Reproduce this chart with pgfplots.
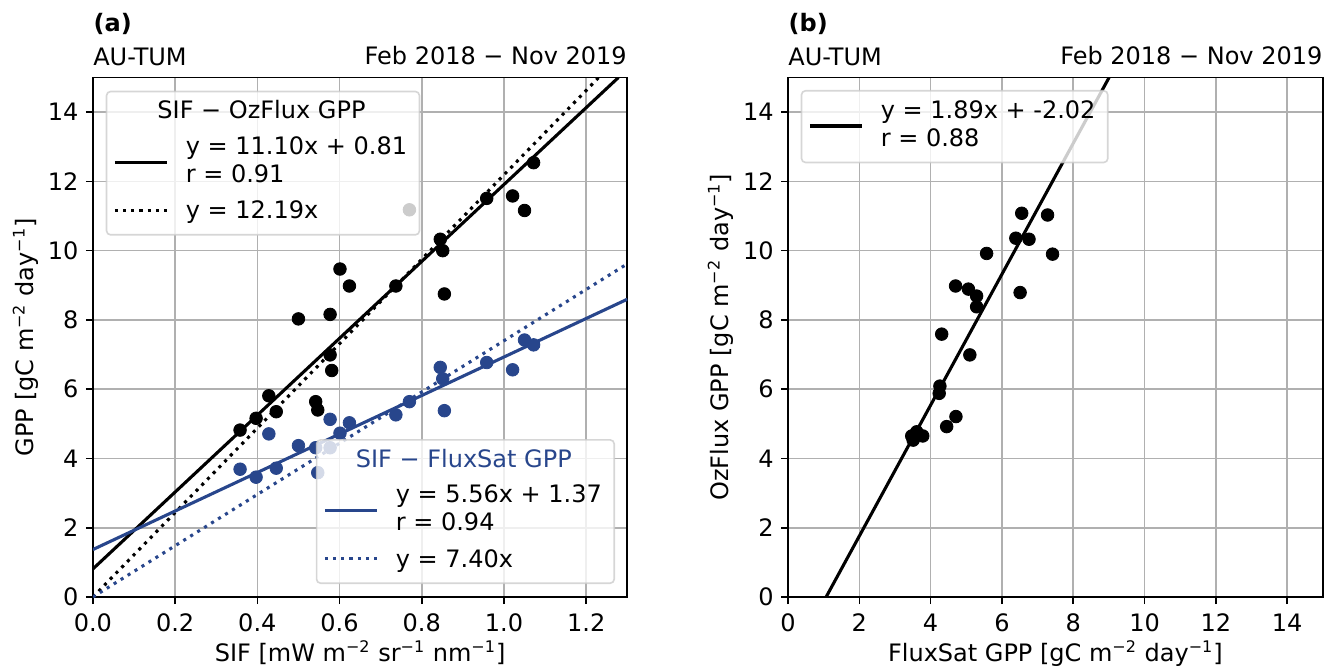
\documentclass[border=0pt]{standalone}
\usepackage{fontspec}
\setmainfont{DejaVu Sans}
\usepackage{pgfplots}
\pgfplotsset{compat=1.18}
\definecolor{fsblue}{RGB}{40,70,140}
\definecolor{gridgray}{RGB}{176,176,176}
\pgfplotsset{
  panel/.style={
    scale only axis, height=259.75pt,
    anchor=south west,
    axis line style={line width=0.82pt},
    every tick/.style={black, line width=0.82pt},
    tick align=outside, major tick length=3.5pt,
    xtick pos=left, ytick pos=left,
    grid=major, major grid style={gridgray, line width=0.82pt},
    ymin=0, ymax=15, ytick={0,2,...,14},
    /pgf/number format/assume math mode=true,
    tick label style={font=\fontsize{12}{14.4}\selectfont},
    yticklabel style={inner sep=0pt, anchor=east, xshift=-3.5pt},
    xticklabel style={inner sep=0pt, anchor=north, yshift=-4.65pt},
  },
  mylegend/.style={
    legend cell align=left,
    legend style={
      draw=black!20, line width=0.82pt, fill=white, fill opacity=0.8,
      draw opacity=0.8, text opacity=1,
      rounded corners=2pt, inner xsep=4.15pt, inner ysep=3.9pt,
      row sep=0pt, column sep=9.5pt,
      font=\fontsize{12}{13.85}\selectfont,
      nodes={inner sep=0pt, anchor=west},
    },
    legend image code/.code={\path[draw=none] (0pt,0pt) -- (26pt,0pt);
      \draw[##1, draw opacity=1, overlay] (0pt,1.5pt) -- (26pt,1.5pt);},
  },
  downimg/.style={
    legend image code/.code={\path[draw=none] (0pt,0pt) -- (26pt,0pt);
      \draw[##1, draw opacity=1, overlay] (0pt,-6.625pt) -- (26pt,-6.625pt);},
  },
  scat/.style={only marks, mark=*, mark size=3.15pt, mark options={draw=none}},
}
\begin{document}
\fontsize{12}{14.4}\selectfont
\begin{tikzpicture}
\path[use as bounding box] (0,0) rectangle (662.5pt,335pt);

% ---------------- panel (a) black ----------------
\begin{axis}[panel, mylegend, at={(46.45pt,36.5pt)}, width=267.2pt,
  xmin=0, xmax=1.3, xtick={0,0.2,...,1.2},
  xticklabel style={/pgf/number format/.cd, fixed, fixed zerofill, precision=1},
  legend style={at={(0.024,0.9746)}, anchor=north west}]
\addlegendimage{empty legend}
\addlegendentry[text height=9.7pt, text depth=8.15pt]{\hspace*{-14.2pt}SIF − OzFlux GPP}
\addplot[black, line width=1.55pt, no marks, downimg]
  coordinates {(0,0.81) (1.2784,15)};
\addlegendentry[text height=9.7pt, text depth=4.15pt]{y = 11.10x + 0.81\hspace*{2pt}}
\addlegendimage{empty legend}
\addlegendentry[text height=9.7pt, text depth=8.6pt]{r = 0.91}
\addplot[black, line width=1.55pt, no marks, dash pattern=on 1.55pt off 2.55pt] coordinates {(0,0) (1.2305,15)};
\addlegendentry[text height=9.7pt, text depth=4.15pt]{y = 12.19x}
\addplot[scat, black, forget plot] table {
0.358 4.82
0.397 5.16
0.428 5.81
0.446 5.35
0.500 8.03
0.542 5.64
0.547 5.40
0.577 8.16
0.577 6.99
0.581 6.54
0.601 9.47
0.624 8.98
0.737 8.98
0.770 11.18
0.845 10.33
0.851 10.00
0.855 8.75
0.958 11.51
1.021 11.58
1.050 11.16
1.072 12.54
};
\end{axis}

% ---------------- panel (a) blue overlay ----------------
\begin{axis}[panel, mylegend, hide axis, at={(46.45pt,36.5pt)}, width=267.2pt,
  xmin=0, xmax=1.3,
  legend style={at={(0.977,0.025)}, anchor=south east}]
\addlegendimage{empty legend}
\addlegendentry[text height=9.7pt, text depth=8.15pt]{\hspace*{-20pt}\textcolor{fsblue}{SIF − FluxSat GPP}}
\addplot[fsblue, line width=1.55pt, no marks, downimg]
  coordinates {(0,1.37) (1.3,8.598)};
\addlegendentry[text height=9.7pt, text depth=4.15pt]{y = 5.56x + 1.37\hspace*{2pt}}
\addlegendimage{empty legend}
\addlegendentry[text height=9.7pt, text depth=8.6pt]{r = 0.94}
\addplot[fsblue, line width=1.55pt, no marks, dash pattern=on 1.55pt off 2.55pt] coordinates {(0,0) (1.3,9.62)};
\addlegendentry[text height=9.7pt, text depth=4.15pt]{y = 7.40x}
\addplot[scat, fsblue, forget plot] table {
0.358 3.69
0.397 3.46
0.428 4.71
0.446 3.72
0.500 4.37
0.542 4.31
0.547 3.59
0.577 5.13
0.577 4.31
0.601 4.73
0.624 5.03
0.737 5.26
0.770 5.64
0.845 6.63
0.851 6.30
0.855 5.38
0.958 6.77
1.021 6.56
1.050 7.42
1.072 7.28
};
\end{axis}

% ---------------- panel (b) ----------------
\begin{axis}[panel, mylegend, at={(394pt,36.5pt)}, width=267.4pt,
  xmin=0, xmax=15, xtick={0,2,...,14},
  legend style={at={(0.0237,0.976)}, anchor=north west, inner ysep=4.07pt}]
\addplot[black, line width=1.55pt, no marks, downimg]
  coordinates {(1.0688,0) (9.0053,15)};
\addlegendentry[text height=9.7pt, text depth=4.15pt]{y = 1.89x + -2.02\hspace*{2pt}}
\addlegendimage{empty legend}
\addlegendentry[text height=9.7pt, text depth=4.15pt]{r = 0.88}
\addplot[scat, black, forget plot] table {
6.555 11.08
7.28 11.03
6.39 10.36
6.76 10.33
5.57 9.92
7.42 9.90
4.70 8.98
5.06 8.89
5.29 8.69
5.29 8.38
6.51 8.79
4.31 7.59
5.10 6.99
4.26 6.09
4.24 5.88
4.71 5.21
4.45 4.92
3.47 4.65
3.61 4.77
3.78 4.65
3.51 4.53
};
\end{axis}

% ---------------- titles and labels ----------------
\node[anchor=base west, inner sep=0pt] at (46.6pt,319.15pt) {\bfseries (a)};
\node[anchor=base west, inner sep=0pt] at (46.45pt,302.15pt) {AU-TUM};
\node[anchor=base east, inner sep=0pt] at (313.6pt,302.5pt) {Feb 2018 − Nov 2019};
\node[anchor=base west, inner sep=0pt] at (394.1pt,319.15pt) {\bfseries (b)};
\node[anchor=base west, inner sep=0pt] at (394pt,302.15pt) {AU-TUM};
\node[anchor=base east, inner sep=0pt] at (661.4pt,302.5pt) {Feb 2018 − Nov 2019};

\node[anchor=base, inner sep=0pt] at (180.05pt,4.15pt) {SIF [mW m\textsuperscript{−2} sr\textsuperscript{−1} nm\textsuperscript{−1}]};
\node[anchor=base, inner sep=0pt] at (527.7pt,4.15pt) {FluxSat GPP [gC m\textsuperscript{−2} day\textsuperscript{−1}]};
\node[anchor=base, inner sep=0pt, rotate=90] at (16.65pt,166.4pt) {GPP [gC m\textsuperscript{−2} day\textsuperscript{−1}]};
\node[anchor=base, inner sep=0pt, rotate=90] at (364.2pt,166.4pt) {OzFlux GPP [gC m\textsuperscript{−2} day\textsuperscript{−1}]};
\end{tikzpicture}
\end{document}
